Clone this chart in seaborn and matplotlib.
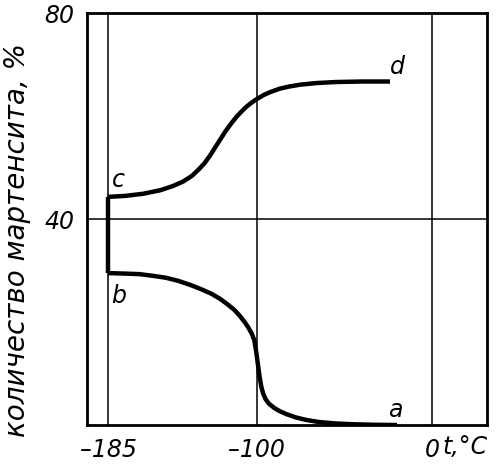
import matplotlib
matplotlib.use("Agg")
import matplotlib.pyplot as plt
import seaborn as sns
import pandas as pd

# upper branch c -> d
up_t = [-185, -175, -165, -155, -148, -142, -137, -133, -130, -127, -124, -121, -118, -115, -112, -109, -106, -103, -100, -96, -92, -87, -82, -75, -66, -55, -40, -24]
up_m = [44.3, 44.5, 44.9, 45.6, 46.4, 47.3, 48.4, 49.7, 50.8, 52.2, 53.8, 55.4, 57.0, 58.4, 59.7, 60.8, 61.8, 62.6, 63.3, 64.1, 64.7, 65.3, 65.7, 66.1, 66.4, 66.6, 66.7, 66.7]
# lower branch b -> a
lo_t = [-185, -175, -167, -160, -152, -145, -138, -132, -126, -121, -117, -113, -110, -107, -105, -103, -101.5, -100.5, -99.5, -98.5, -97.5, -96.5, -95, -93, -90, -87, -83, -78, -72, -65, -55, -45, -33, -20]
lo_m = [29.5, 29.4, 29.3, 29.0, 28.6, 28.0, 27.2, 26.4, 25.5, 24.5, 23.5, 22.4, 21.3, 20.0, 19.0, 17.8, 16.5, 14.5, 12.0, 9.5, 7.5, 6.2, 5.0, 4.1, 3.3, 2.7, 2.1, 1.5, 1.0, 0.6, 0.3, 0.15, 0.05, 0.0]
# jump at -185
jump_t = [-185, -185]
jump_m = [29.5, 44.3]

x_ticks = [-185, -100, 0]
x_tick_labels = ["\u2013185", "\u2013100", "0"]
y_ticks = [40, 80]
y_tick_labels = ["40", "80"]
curve_labels = ["c", "b", "d", "a"]
label_t = [-179, -179, -20, -21]
label_m = [47.5, 25.0, 69.5, 3.0]

sns.set_theme(style="white")
plt.rcParams["font.family"] = ["DejaVu Sans"]
plt.rcParams["text.color"] = "black"
plt.rcParams["axes.labelcolor"] = "black"
plt.rcParams["xtick.color"] = "black"
plt.rcParams["ytick.color"] = "black"

fig = plt.figure(figsize=(5.0, 4.7), dpi=100)
ax = fig.add_axes([0.174, 0.0957, 0.8, 0.8766])

df_up = pd.DataFrame({"t": up_t, "m": up_m})
df_lo = pd.DataFrame({"t": lo_t, "m": lo_m})
df_j = pd.DataFrame({"t": jump_t, "m": jump_m})
for d in (df_up, df_lo, df_j):
    sns.lineplot(data=d, x="t", y="m", ax=ax, color="black", linewidth=3.2,
                 sort=False, estimator=None, solid_capstyle="butt",
                 solid_joinstyle="round")

for xv in x_ticks:
    ax.axvline(xv, color="black", linewidth=1.1, zorder=0)
ax.axhline(40, color="black", linewidth=1.1, zorder=0)

ax.set_xlim(-197, 31.4)
ax.set_ylim(0, 80)
ax.set_xticks(x_ticks)
ax.set_xticklabels(x_tick_labels, fontsize=17, fontstyle="italic")
ax.set_yticks(y_ticks)
ax.set_yticklabels(y_tick_labels, fontsize=17, fontstyle="italic")
ax.tick_params(length=0, pad=9)
ax.set_xlabel("")
ax.set_ylabel("количество мартенсита, %", fontsize=20, fontstyle="italic")
ax.yaxis.set_label_coords(-0.14, 0.45)
for s in ax.spines.values():
    s.set_color("black")
    s.set_linewidth(2.0)

for lab, tx, my in zip(curve_labels, label_t, label_m):
    ax.text(tx, my, lab, fontsize=17, fontstyle="italic", ha="center", va="center")

ax.text(6, -2.0, "t,°C", fontsize=17, fontstyle="italic", ha="left", va="top",
        clip_on=False)

fig.savefig("out.png", dpi=100)
